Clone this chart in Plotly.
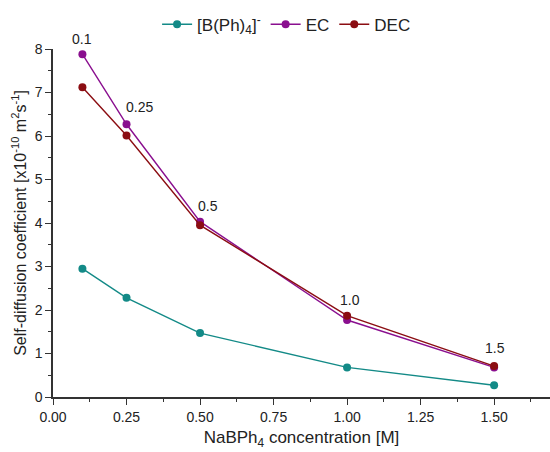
import plotly.graph_objects as go

conc = [0.1, 0.25, 0.5, 1.0, 1.5]
bph4 = [2.95, 2.28, 1.47, 0.68, 0.27]
ec = [7.88, 6.27, 4.03, 1.77, 0.68]
dec = [7.12, 6.01, 3.95, 1.87, 0.71]
point_labels = ["0.1", "0.25", "0.5", "1.0", "1.5"]
x_ticks = [0.0, 0.25, 0.5, 0.75, 1.0, 1.25, 1.5]
x_ticklabels = ["0.00", "0.25", "0.50", "0.75", "1.00", "1.25", "1.50"]
y_ticks = [0, 1, 2, 3, 4, 5, 6, 7, 8]

FONT = "Arial, Liberation Sans, sans-serif"

fig = go.Figure()
series = [
    ("[B(Ph)<sub>4</sub>]<sup>-</sup>", bph4, "#138a87"),
    ("EC", ec, "#8a0f8f"),
    ("DEC", dec, "#8b0d12"),
]
for name, vals, col in series:
    fig.add_trace(go.Scatter(
        x=conc, y=vals, name=name, mode="lines+markers",
        line=dict(color=col, width=1.4),
        marker=dict(color=col, size=8),
        cliponaxis=False,
    ))

shifts = [(0, 15), (13, 17), (8, 16), (3, 16), (1, 18)]
for i, lab in enumerate(point_labels):
    fig.add_annotation(
        x=conc[i], y=max(ec[i], dec[i]), text=lab, showarrow=False,
        xshift=shifts[i][0], yshift=shifts[i][1],
        font=dict(family=FONT, size=14, color="#222"),
    )

fig.update_layout(
    width=550, height=452,
    margin=dict(l=53, r=0, t=49, b=55),
    paper_bgcolor="white", plot_bgcolor="white",
    font=dict(family=FONT, color="#222"),
    showlegend=True,
    legend=dict(orientation="h", x=0.47, xanchor="center", y=1.07, yanchor="middle",
                font=dict(family=FONT, size=17, color="#222"), bgcolor="rgba(0,0,0,0)",
                tracegroupgap=0),
    xaxis=dict(
        range=[0, 1.69], tickvals=x_ticks, ticktext=x_ticklabels,
        showline=True, linecolor="#333", linewidth=1.5, mirror=False,
        ticks="outside", ticklen=6, tickcolor="#333", tickwidth=1,
        minor=dict(dtick=0.125, ticks="outside", ticklen=3, tickcolor="#333"),
        showgrid=False, zeroline=False,
        tickfont=dict(family=FONT, size=14, color="#222"),
        title=dict(text="NaBPh<sub>4</sub> concentration [M]", font=dict(family=FONT, size=17, color="#222"), standoff=8),
    ),
    yaxis=dict(
        range=[0, 8], tickvals=y_ticks,
        showline=True, linecolor="#333", linewidth=1.5, mirror=False,
        ticks="outside", ticklen=6, tickcolor="#333", tickwidth=1,
        minor=dict(dtick=0.5, ticks="outside", ticklen=3, tickcolor="#333"),
        showgrid=False, zeroline=False,
        tickfont=dict(family=FONT, size=14, color="#222"),
        title=dict(text="Self-diffusion coefficient [x10<sup>-10</sup> m<sup>2</sup>s<sup>-1</sup>]",
                   font=dict(family=FONT, size=16, color="#222"), standoff=4),
    ),
)

fig.write_html("out.html")
